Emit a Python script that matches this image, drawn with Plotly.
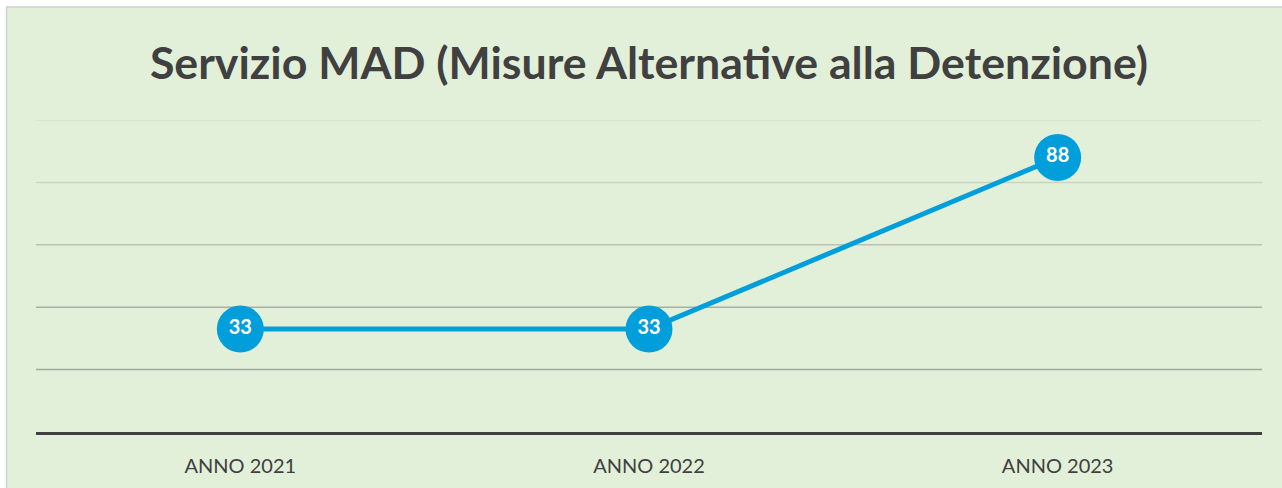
import plotly.graph_objects as go

categories = ["ANNO 2021", "ANNO 2022", "ANNO 2023"]
values = [33, 33, 88]
grid_values = [20, 40, 60, 80, 100]
grid_colors = ["#A0A99C", "#A6B0A2", "#B9C3B4", "#C9D3C4", "#D6E0D1"]

title_text = "Servizio MAD (Misure Alternative alla Detenzione)"

W, H = 1282, 488
ml, mr, mt, mb = 35.5, 19.5, 120, 56
pw, ph = W - ml - mr, H - mt - mb

fig = go.Figure()
fig.add_trace(go.Scatter(
    x=categories, y=values, mode="lines+markers+text",
    line=dict(color="#009FDB", width=5),
    marker=dict(size=47, color="#009FDB", line=dict(width=0)),
    text=[str(v) for v in values], textposition="middle center",
    textfont=dict(family="Lato", size=20, color="white", weight="bold"),
    cliponaxis=False, hoverinfo="skip",
))

shapes = []
# chart area background + border
shapes.append(dict(type="rect", xref="paper", yref="paper",
                   x0=(6 - ml) / pw, x1=(W + 20 - ml) / pw,
                   y0=-(H + 20 - (H - mb)) / ph, y1=(H - mb - 7) / ph,
                   fillcolor="#E2F0D9", line=dict(color="#D0D0D0", width=1.5),
                   layer="below"))
for gv, gc in zip(grid_values, grid_colors):
    shapes.append(dict(type="line", xref="paper", yref="y", x0=0, x1=1,
                       y0=gv, y1=gv, line=dict(color=gc, width=1.5), layer="below"))

fig.update_layout(
    width=W, height=H,
    margin=dict(l=ml, r=mr, t=mt, b=mb, pad=0),
    paper_bgcolor="white", plot_bgcolor="rgba(0,0,0,0)",
    showlegend=False,
    shapes=shapes,
    title=dict(text=title_text, x=0.5, xref="paper", xanchor="center",
               y=(H - 63) / H, yref="container", yanchor="middle",
               font=dict(family="Lato", size=44.7, color="#404040", weight="bold")),
    xaxis=dict(type="category", range=[-0.5, 2.5], showgrid=False, zeroline=False,
               showline=True, linecolor="#404040", linewidth=3,
               ticks="outside", ticklen=14, tickcolor="rgba(0,0,0,0)",
               tickfont=dict(family="Lato", size=20, color="#404040"),
               fixedrange=True),
    yaxis=dict(range=[0, 100], showgrid=False, zeroline=False, showline=False,
               showticklabels=False, ticks="", fixedrange=True),
)

fig.write_html("out.html", config={"displayModeBar": False},
               post_script="document.body.style.margin='0';")
